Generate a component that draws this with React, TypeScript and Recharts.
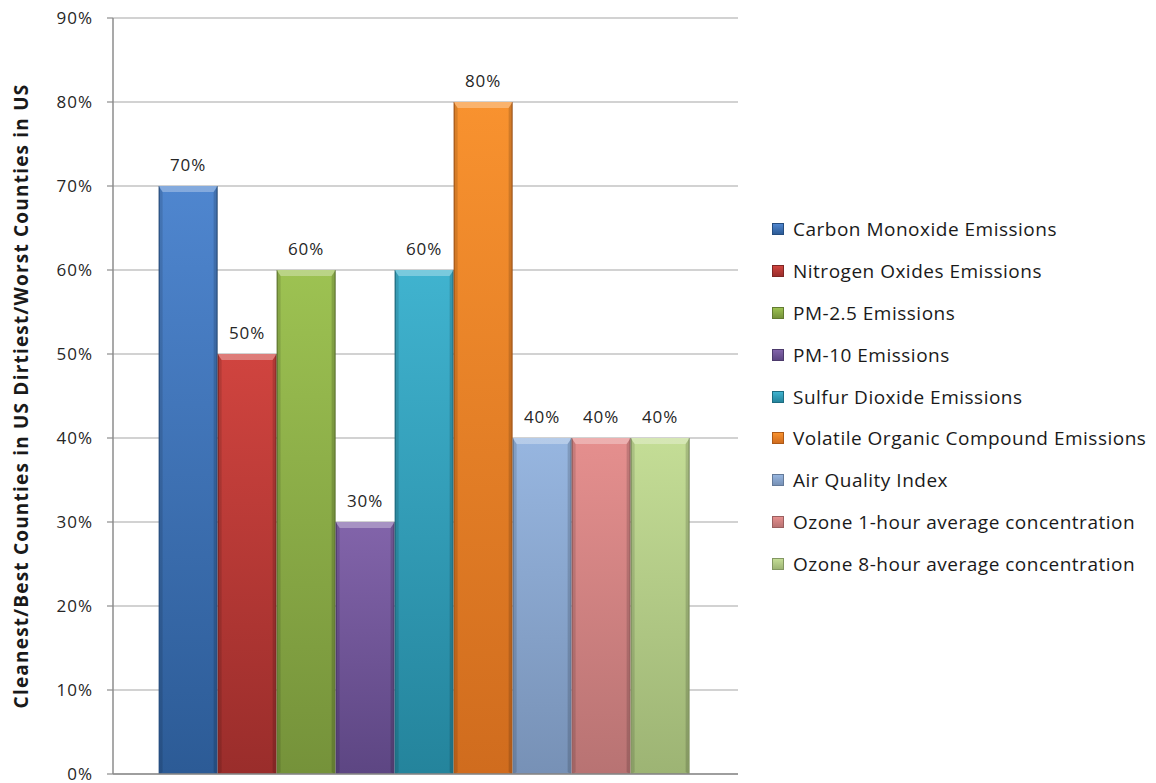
import { BarChart, Bar, XAxis, YAxis, CartesianGrid, LabelList } from 'recharts';

const categories = ['Counties'];
const seriesNames = [
  'Carbon Monoxide Emissions',
  'Nitrogen Oxides Emissions',
  'PM-2.5 Emissions',
  'PM-10 Emissions',
  'Sulfur Dioxide Emissions',
  'Volatile Organic Compound Emissions',
  'Air Quality Index',
  'Ozone 1-hour average concentration',
  'Ozone 8-hour average concentration',
];
const seriesValues = [70, 50, 60, 30, 60, 80, 40, 40, 40];
const yTicks = [0, 10, 20, 30, 40, 50, 60, 70, 80, 90];

// top colour, bottom colour, edge colour
const palette = [
  ['#4f86cf', '#2c5b96', '#254d7f'],
  ['#d0443f', '#9a2d2b', '#7e2624'],
  ['#9dc252', '#75923a', '#627b30'],
  ['#8264aa', '#5d4683', '#4c3a6b'],
  ['#40b3cf', '#24849c', '#1d6c80'],
  ['#f8922f', '#d06c1e', '#ad5917'],
  ['#97b6e0', '#7791b6', '#647a99'],
  ['#e58f8e', '#b87373', '#9a5f5f'],
  ['#c4dd96', '#9db474', '#839762'],
];

const data = categories.map((c) => {
  const row: Record<string, string | number> = { name: c };
  seriesNames.forEach((s, i) => {
    row[s] = seriesValues[i];
  });
  return row;
});

const font = "'Open Sans', sans-serif";

const makeShape = (idx: number) => (props: any) => {
  const { x, y, width, height } = props;
  const [top, bottom, edge] = palette[idx];
  const gid = `bar-grad-${idx}`;
  const b = 4;
  return (
    <g>
      <defs>
        <linearGradient id={gid} x1="0" y1="0" x2="0" y2="1">
          <stop offset="0%" stopColor={top} />
          <stop offset="100%" stopColor={bottom} />
        </linearGradient>
      </defs>
      <rect x={x} y={y} width={width} height={height} fill={edge} />
      <rect x={x + 1} y={y} width={width - 2} height={height - 1} fill={`url(#${gid})`} />
      <polygon
        points={`${x},${y} ${x + width},${y} ${x + width - b},${y + b + 2} ${x + b},${y + b + 2}`}
        fill="#ffffff"
        fillOpacity={0.3}
      />
      <polygon
        points={`${x},${y} ${x + b},${y + b + 2} ${x + b},${y + height - 2} ${x + 1},${y + height}`}
        fill="#000000"
        fillOpacity={0.12}
      />
      <polygon
        points={`${x + width},${y} ${x + width - b},${y + b + 2} ${x + width - b},${y + height - 2} ${x + width - 1},${y + height}`}
        fill="#000000"
        fillOpacity={0.15}
      />
    </g>
  );
};

const renderYTitle = (props: any) => {
  const vb = props.viewBox || {};
  const cy = vb.y + vb.height / 2;
  return (
    <text
      x={21}
      y={cy}
      transform={`rotate(-90, 21, ${cy})`}
      textAnchor="middle"
      dominantBaseline="central"
      fontFamily={font}
      fontWeight={700}
      fontSize={19}
      letterSpacing={1.2}
      fill="#1a1a1a"
    >
      Cleanest/Best Counties in US Dirtiest/Worst Counties in US
    </text>
  );
};

export default function App() {
  return (
    <div style={{ position: 'absolute', left: 0, top: 0, width: 1156, height: 783, background: '#fff' }}>
      <BarChart
        width={1156}
        height={783}
        data={data}
        margin={{ top: 18, right: 418, bottom: 8, left: 0 }}
        barCategoryGap="7.3%"
        barGap={0}
      >
        <CartesianGrid vertical={false} stroke="#a6a6a6" strokeWidth={1.2} />
        <XAxis dataKey="name" tick={false} tickLine={false} height={1} axisLine={{ stroke: '#8c8c8c', strokeWidth: 1.5 }} />
        <YAxis
          width={113}
          domain={[0, 90]}
          ticks={yTicks}
          interval={0}
          tickFormatter={(v: number) => `${v}%`}
          tickSize={6}
          tickMargin={14}
          tick={{ fontFamily: font, fontSize: 17, letterSpacing: 1, fill: '#262626' }}
          axisLine={{ stroke: '#8c8c8c', strokeWidth: 1.5 }}
          tickLine={{ stroke: '#8c8c8c', strokeWidth: 1.2 }}
          label={renderYTitle}
        />
        {seriesNames.map((s, i) => (
          <Bar key={s} dataKey={s} fill={palette[i][0]} shape={makeShape(i)} isAnimationActive={false}>
            <LabelList
              dataKey={s}
              position="top"
              offset={15}
              formatter={(v: any) => `${v}%`}
              style={{ fontFamily: font, fontSize: 17, letterSpacing: 1, fill: '#262626' }}
            />
          </Bar>
        ))}
      </BarChart>
      <div
        style={{
          position: 'absolute',
          left: 772,
          top: 208,
          fontFamily: font,
          fontSize: 19,
          letterSpacing: 0.5,
          color: '#1a1a1a',
        }}
      >
        {seriesNames.map((s, i) => (
          <div key={s} style={{ height: 41.9, display: 'flex', alignItems: 'center', whiteSpace: 'nowrap' }}>
            <span
              style={{
                display: 'inline-block',
                width: 10,
                height: 10,
                marginRight: 9,
                border: `1px solid ${palette[i][2]}`,
                background: `linear-gradient(${palette[i][0]}, ${palette[i][1]})`,
              }}
            />
            <span>{s}</span>
          </div>
        ))}
      </div>
    </div>
  );
}
